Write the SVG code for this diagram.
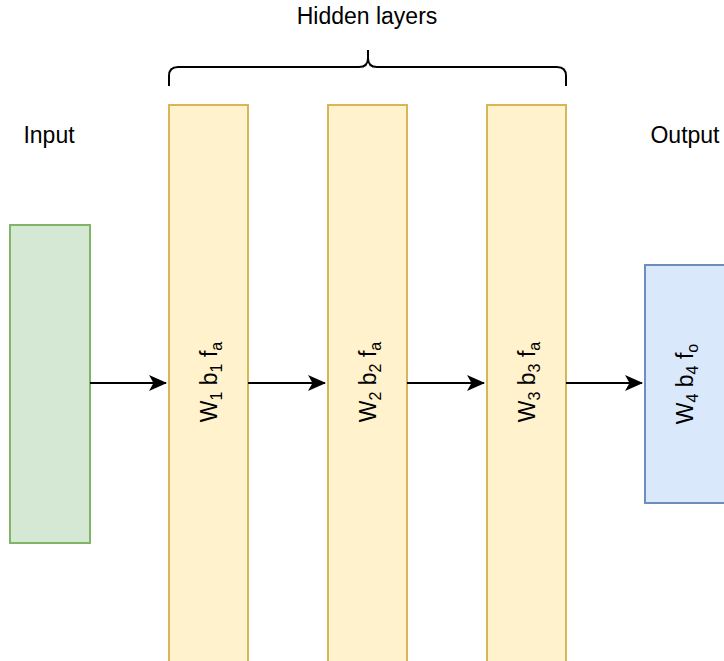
<svg xmlns="http://www.w3.org/2000/svg" width="724" height="661" viewBox="0 0 724 661">
<defs>
<marker id="ah" viewBox="0 0 18 16" refX="17" refY="8" markerWidth="18" markerHeight="16" markerUnits="userSpaceOnUse" orient="auto">
<path d="M0,0 L18,8 L0,16 L4.5,8 Z" fill="#000"/>
</marker>
</defs>
<style>
text{font-family:"Liberation Sans",Arial,sans-serif;font-size:23px;fill:#000}
.hid{fill:#fff2cc;stroke:#d6b656;stroke-width:2}
.inp{fill:#d5e8d4;stroke:#82b366;stroke-width:2}
.out{fill:#dae8fc;stroke:#6c8ebf;stroke-width:2}
.conn{stroke:#000;stroke-width:2;fill:none}
.sub{font-size:16px}
</style>
<rect width="724" height="661" fill="#fff"/>
<g id="label-hidden"><text x="367" y="24" text-anchor="middle">Hidden layers</text></g>
<g id="brace"><path d="M169,86 L169,76 Q169,67 178,67 L359,67 Q368,67 368,58 L368,50 M368,58 Q368,67 377,67 L557,67 Q566,67 566,76 L566,86" fill="none" stroke="#000" stroke-width="2"/></g>
<g id="label-input"><text x="49" y="143" text-anchor="middle">Input</text></g>
<g id="label-output"><text x="685" y="143" text-anchor="middle">Output</text></g>
<g id="input"><rect class="inp" x="10" y="225" width="80" height="318"/></g>
<g id="h1"><rect class="hid" x="169" y="105" width="79" height="570"/>
<text transform="translate(217,382) rotate(-90)" text-anchor="middle">W<tspan class="sub" dy="5">1</tspan><tspan dy="-5"> b</tspan><tspan class="sub" dy="5">1</tspan><tspan dy="-5"> f</tspan><tspan class="sub" dy="5">a</tspan></text></g>
<g id="h2"><rect class="hid" x="328" y="105" width="79" height="570"/>
<text transform="translate(376,382) rotate(-90)" text-anchor="middle">W<tspan class="sub" dy="5">2</tspan><tspan dy="-5"> b</tspan><tspan class="sub" dy="5">2</tspan><tspan dy="-5"> f</tspan><tspan class="sub" dy="5">a</tspan></text></g>
<g id="h3"><rect class="hid" x="487" y="105" width="79" height="570"/>
<text transform="translate(535,382) rotate(-90)" text-anchor="middle">W<tspan class="sub" dy="5">3</tspan><tspan dy="-5"> b</tspan><tspan class="sub" dy="5">3</tspan><tspan dy="-5"> f</tspan><tspan class="sub" dy="5">a</tspan></text></g>
<g id="output"><rect class="out" x="645" y="265" width="80" height="238"/>
<text transform="translate(693,384) rotate(-90)" text-anchor="middle">W<tspan class="sub" dy="5">4</tspan><tspan dy="-5"> b</tspan><tspan class="sub" dy="5">4</tspan><tspan dy="-5"> f</tspan><tspan class="sub" dy="5">o</tspan></text></g>
<g id="connectors">
<line class="conn" x1="90" y1="383" x2="166" y2="383" marker-end="url(#ah)"/>
<line class="conn" x1="248" y1="383" x2="325" y2="383" marker-end="url(#ah)"/>
<line class="conn" x1="407" y1="383" x2="484" y2="383" marker-end="url(#ah)"/>
<line class="conn" x1="566" y1="383" x2="642" y2="383" marker-end="url(#ah)"/>
</g>
</svg>
